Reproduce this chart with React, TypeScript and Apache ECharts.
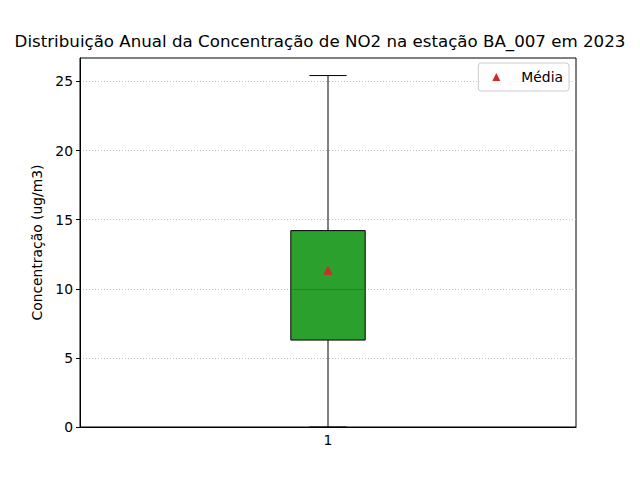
import React, { useEffect, useRef } from "react";
import * as echarts from "echarts";

const categories = ["1"];
// [min, Q1, median, Q3, max]
const boxStats = [0, 6.29, 9.95, 14.21, 25.43];
const meanValue = 11.34;
const yTicks = [0, 5, 10, 15, 20, 25];

const FONT = "DejaVu Sans";

export default function App() {
  const ref = useRef<HTMLDivElement>(null);
  useEffect(() => {
    if (!ref.current) return;
    const chart = echarts.init(ref.current, null, { renderer: "svg" });
    chart.setOption({
      animation: false,
      backgroundColor: "#fff",
      textStyle: { fontFamily: FONT },
      title: {
        text: "Distribuição Anual da Concentração de NO2 na estação BA_007 em 2023",
        left: 320,
        textAlign: "center",
        top: 33,
        padding: 0,
        textStyle: { fontFamily: FONT, fontSize: 16.67, fontWeight: "normal", color: "#000" },
      },
      legend: {
        right: 71,
        top: 63,
        orient: "vertical",
        data: [{ name: "Média", icon: "triangle" }],
        itemWidth: 8,
        itemHeight: 8,
        itemGap: 4,
        padding: [7, 6, 7, 14],
        borderColor: "#cccccc",
        borderWidth: 1,
        borderRadius: 3,
        backgroundColor: "rgba(255,255,255,0.8)",
        itemStyle: { color: "#d62728", opacity: 1 },
        textStyle: { fontFamily: FONT, fontSize: 13.89, color: "#000", padding: [0, 0, 0, 16] },
      },
      grid: {
        left: 80,
        right: 64,
        top: 58,
        bottom: 53,
        show: true,
        borderColor: "#000",
        borderWidth: 1,
        containLabel: false,
      },
      xAxis: {
        type: "category",
        data: categories,
        boundaryGap: true,
        axisLine: { lineStyle: { color: "#000" } },
        axisTick: { alignWithLabel: true, length: 4, lineStyle: { color: "#000" } },
        axisLabel: { color: "#000", fontSize: 13.89, fontFamily: FONT, margin: 6 },
        splitLine: { show: false },
      },
      yAxis: {
        type: "value",
        min: 0,
        max: 26.7,
        name: "Concentração (ug/m3)",
        nameLocation: "middle",
        nameGap: 36,
        nameTextStyle: { fontFamily: FONT, fontSize: 13.89, color: "#000" },
        axisLine: { show: true, lineStyle: { color: "#000" } },
        axisTick: { show: true, length: 4, customValues: yTicks, lineStyle: { color: "#000" } },
        axisLabel: { color: "#000", fontSize: 13.89, fontFamily: FONT, margin: 7, customValues: yTicks },
        splitLine: { show: true, lineStyle: { color: "#b0b0b0", type: [1, 2], width: 0.8 } },
      },
      series: [
        {
          type: "custom",
          name: "box",
          data: [[0, ...boxStats]],
          encode: { x: 0, y: [1, 2, 3, 4, 5] },
          renderItem: (params: any, api: any) => {
            const xi = api.value(0);
            const lo = api.coord([xi, api.value(1)]);
            const q1 = api.coord([xi, api.value(2)]);
            const md = api.coord([xi, api.value(3)]);
            const q3 = api.coord([xi, api.value(4)]);
            const hi = api.coord([xi, api.value(5)]);
            const band = api.size([1, 0])[0];
            const w = band * 0.15;
            const cw = w / 2;
            const cx = lo[0];
            const ls = { stroke: "#000", lineWidth: 1 };
            return {
              type: "group",
              children: [
                { type: "line", shape: { x1: cx, y1: q1[1], x2: cx, y2: lo[1] }, style: ls },
                { type: "line", shape: { x1: cx, y1: q3[1], x2: cx, y2: hi[1] }, style: ls },
                { type: "line", shape: { x1: cx - cw / 2, y1: lo[1], x2: cx + cw / 2, y2: lo[1] }, style: ls },
                { type: "line", shape: { x1: cx - cw / 2, y1: hi[1], x2: cx + cw / 2, y2: hi[1] }, style: ls },
                {
                  type: "rect",
                  shape: { x: cx - w / 2, y: q3[1], width: w, height: q1[1] - q3[1] },
                  style: { fill: "#2ca02c", stroke: "#000", lineWidth: 1 },
                },
                {
                  type: "line",
                  shape: { x1: cx - w / 2, y1: md[1], x2: cx + w / 2, y2: md[1] },
                  style: { stroke: "#d62728", lineWidth: 1 },
                },
              ],
            };
          },
          z: 2,
        },
        {
          type: "scatter",
          name: "Média",
          data: [[0, meanValue]],
          symbol: "triangle",
          symbolSize: 9,
          itemStyle: { color: "#d62728", opacity: 1 },
          z: 3,
        },
      ],
    });
    return () => chart.dispose();
  }, []);
  return <div ref={ref} style={{ width: 640, height: 480, position: "absolute", left: 0, top: 0 }} />;
}
